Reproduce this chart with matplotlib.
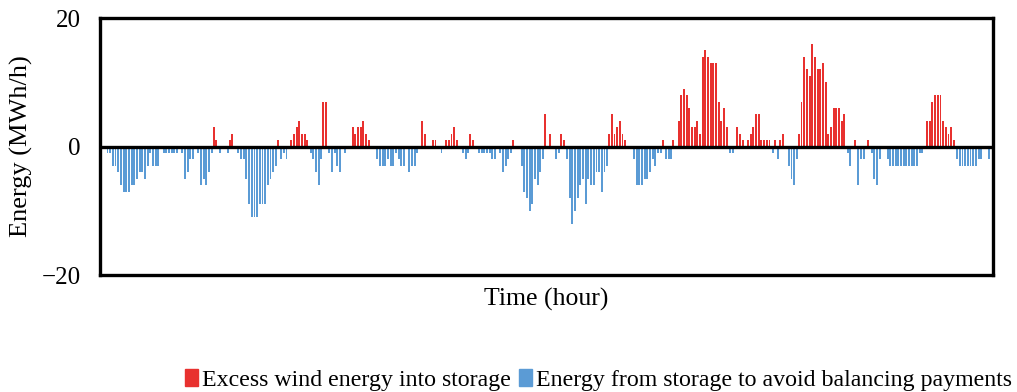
import matplotlib
matplotlib.use("Agg")
import matplotlib.pyplot as plt
import numpy as np
from matplotlib.patches import Patch

plt.rcParams['font.family'] = ['Liberation Serif', 'DejaVu Serif']

# Net hourly energy (MWh/h): positive = excess wind into storage, negative = drawn from storage
net_energy = [
    1, 0, -1, -1, -3, -3, -4, -6, -7, -7, -7, -6, -6, -5, -4, -4, -5, -3, -1, -3, -3, -3, 0, -1,
    -1, -1, -1, -1, -1, 0, -1, -5, -4, -2, -2, 0, -1, -6, -5, -6, -4, -1, 3, 1, -1, 0, 0, -1,
    1, 2, 0, -1, -2, -2, -5, -9, -11, -11, -11, -9, -9, -9, -6, -5, -4, -3, 1, -2, -1, -2, 0, 1,
    2, 3, 4, 2, 2, 1, -1, -2, -4, -6, -2, 7, 7, -1, -4, -1, -3, -4, 0, -1, 0, 0, 3, 2,
    3, 3, 4, 2, 1, 0, 0, -2, -3, -3, -3, -2, -3, -3, -1, -2, -3, -3, 0, -4, -3, -3, -1, 0,
    4, 2, 0, 0, 1, 1, 0, -1, 0, 1, 1, 2, 3, 1, 0, -1, -2, -1, 2, 1, 0, -1, -1, -1,
    -1, -1, -2, -2, 0, -1, -4, -3, -2, -1, 1, 0, 0, -3, -7, -8, -10, -9, -5, -6, -4, -2, 5, 0,
    2, 0, -2, -1, 2, 1, -2, -8, -12, -10, -8, -6, -5, -9, -5, -6, -6, -4, -4, -7, -4, -3, 2, 5,
    2, 3, 4, 2, 1, 0, 0, -2, -6, -6, -6, -5, -5, -4, -2, -3, -1, -1, 1, -2, -2, -2, 1, 0,
    4, 8, 9, 8, 6, 3, 3, 4, 2, 14, 15, 14, 13, 13, 13, 7, 4, 6, 3, -1, -1, 0, 3, 2,
    1, 0, 1, 2, 3, 5, 5, 1, 1, 1, 1, -1, 1, -2, 1, 2, 0, -3, -5, -6, -2, 2, 7, 14,
    12, 11, 16, 14, 12, 12, 13, 10, 2, 3, 6, 6, 6, 4, 5, -1, -3, 0, 1, -6, -2, -2, 0, 1,
    -1, -5, -6, -2, 0, 0, -2, -3, -3, -3, -3, -3, -3, -3, -3, -3, -3, -3, -1, -1, 0, 4, 4, 7,
    8, 8, 8, 4, 3, 2, 3, 1, -2, -3, -3, -3, -3, -3, -3, -3, -2, -2, 0, 0, -2, 0,
]
hours = np.arange(len(net_energy))
excess_wind = [v if v > 0 else 0 for v in net_energy]
from_storage = [v if v < 0 else 0 for v in net_energy]

labels = ["Excess wind energy into storage",
          "Energy from storage to avoid balancing payments"]
colors = ["#E8312F", "#5B9BD5"]

fig = plt.figure(figsize=(10.17, 3.92), dpi=100)
ax = fig.add_axes([0.0985, 0.298, 0.878, 0.656])

ax.bar(hours - 0.1, excess_wind, width=0.72, color=colors[0], linewidth=0)
ax.bar(hours + 0.15, from_storage, width=0.72, color=colors[1], linewidth=0)

ax.axhline(0, color="black", linewidth=2.4, zorder=3)
ax.set_xlim(-0.6, len(net_energy) - 0.4)
ax.set_ylim(-20, 20)
ax.set_yticks([-20, 0, 20])
ax.set_yticklabels(["\u221220", "0", "20"])
ax.set_xticks([])
ax.tick_params(axis='y', length=0, pad=14, labelsize=18)
for s in ax.spines.values():
    s.set_linewidth(2.4)
    s.set_color("black")

ax.set_ylabel("Energy (MWh/h)", fontsize=19, labelpad=6)
ax.set_xlabel("Time (hour)", fontsize=18.5, labelpad=9)

handles = [Patch(color=c) for c in colors]
fig.legend(handles, labels, loc="lower right", bbox_to_anchor=(1.009, -0.034),
           ncol=2, frameon=False, fontsize=17.2, handlelength=0.55, handleheight=0.7,
           handletextpad=0.15, columnspacing=0.35, borderaxespad=0.2)

fig.savefig("out.png", dpi=100)
